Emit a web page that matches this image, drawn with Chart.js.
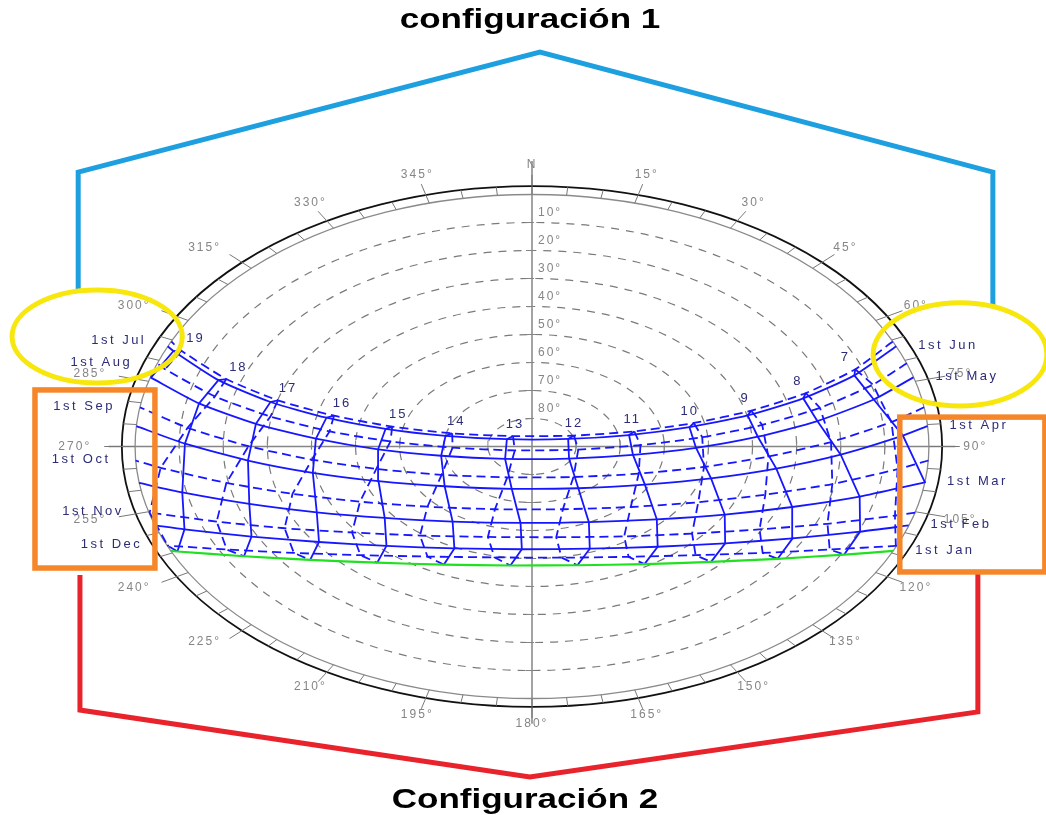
<!DOCTYPE html>
<html lang="es">
<head>
<meta charset="utf-8">
<title>configuración 1 / Configuración 2</title>
<script src="https://cdn.jsdelivr.net/npm/chart.js@4.4.1/dist/chart.umd.min.js"></script>
<style>
  html, body { margin: 0; padding: 0; background: #fff; }
  #wrap { width: 1046px; height: 815px; }
</style>
</head>
<body>
<div id="wrap"><canvas id="sunpath" width="1046" height="815"></canvas></div>
<script>
// Sun path positions.
// x = east offset, y = north offset, both in degrees of zenith distance (horizon = 90)
const hours = [7, 8, 9, 10, 11, 12, 13, 14, 15, 16, 17, 18, 19];
const monthLabels = ['1st Jan', '1st Feb', '1st Mar', '1st Apr', '1st May', '1st Jun',
                     '1st Jul', '1st Aug', '1st Sep', '1st Oct', '1st Nov', '1st Dec'];

const sunJan = [null, [70.8,-38.6], [55.7,-40.1], [40.6,-41.2], [25.5,-42.0], [10.3,-42.4], [-4.9,-42.5], [-20.0,-42.2], [-35.1,-41.5], [-50.3,-40.5], [-65.3,-39.2], [-80.4,-37.5], null];
const sunFeb = [null, [74.4,-30.4], [59.1,-32.8], [43.8,-34.6], [28.5,-35.8], [13.1,-36.5], [-2.3,-36.7], [-17.6,-36.4], [-33.0,-35.5], [-48.3,-34.1], [-63.6,-32.2], [-78.8,-29.6], null];
const sunMar = [[89.1,-12.8], [74.3,-17.9], [59.0,-21.6], [43.7,-24.3], [28.3,-26.0], [12.9,-27.0], [-2.6,-27.3], [-18.0,-26.8], [-33.4,-25.5], [-48.8,-23.5], [-64.1,-20.5], [-79.3,-16.4], null];
const sunApr = [[84.1,3.9], [70.0,-2.9], [55.4,-7.9], [40.6,-11.4], [25.6,-13.6], [10.5,-14.9], [-4.6,-15.1], [-19.8,-14.2], [-34.8,-12.4], [-49.7,-9.4], [-64.4,-5.0], [-78.7,1.0], null];
const sunMay = [[77.5,16.8], [64.7,9.1], [51.2,3.5], [37.2,-0.5], [22.9,-3.0], [8.4,-4.3], [-6.1,-4.4], [-20.6,-3.3], [-34.9,-1.0], [-49.0,2.8], [-62.6,8.1], [-75.5,15.4], [-86.4,24.6]];
const sunJun = [[73.1,25.4], [61.5,17.2], [48.9,11.1], [35.7,6.9], [22.0,4.1], [8.2,2.7], [-5.7,2.6], [-19.6,3.8], [-33.2,6.3], [-46.6,10.3], [-59.3,15.9], [-71.1,23.7], [-81.3,34.1]];
const sunJul = [[73.3,27.6], [62.1,19.1], [49.7,12.8], [36.7,8.4], [23.2,5.4], [9.5,3.9], [-4.3,3.7], [-18.1,4.7], [-31.7,7.1], [-44.9,11.0], [-57.6,16.5], [-69.3,24.1], [-79.5,34.2]];
const sunAug = [[77.3,22.1], [65.3,13.8], [52.2,7.7], [38.6,3.3], [24.6,0.5], [10.5,-1.1], [-3.9,-1.4], [-18.0,-0.4], [-32.1,1.8], [-45.9,5.4], [-59.3,10.7], [-71.9,17.9], [-83.2,27.6]];
const sunSep = [[81.5,8.7], [67.8,1.6], [53.6,-3.6], [39.0,-7.3], [24.2,-9.7], [9.4,-10.9], [-5.6,-11.0], [-20.5,-10.1], [-35.3,-8.0], [-49.9,-4.7], [-64.3,0.1], [-78.1,6.7], null];
const sunOct = [[82.9,-8.1], [68.1,-13.4], [52.9,-17.2], [37.7,-19.9], [22.4,-21.6], [7.0,-22.4], [-8.4,-22.4], [-23.7,-21.5], [-39.0,-19.7], [-54.3,-16.9], [-69.3,-13.0], [-84.2,-7.6], null];
const sunNov = [[82.3,-24.7], [67.0,-27.6], [51.6,-29.6], [36.3,-31.1], [20.9,-32.1], [5.5,-32.4], [-10.0,-32.3], [-25.4,-31.8], [-40.8,-30.7], [-56.1,-29.2], [-71.5,-26.8], [-86.7,-23.6], null];
const sunDec = [[82.5,-35.5], [67.5,-36.8], [52.3,-38.0], [37.1,-38.8], [21.9,-39.4], [6.7,-39.7], [-8.5,-39.6], [-23.7,-39.3], [-38.9,-38.8], [-54.0,-38.0], [-69.2,-36.8], [-82.6,-35.4], null];

// where each month's path meets the horizon (east = sunrise, west = sunset)
const sunrise = [[81.9,-37.3], [85.4,-28.2], [89.1,-13.0], [89.7,7.3], [86.5,24.7], [82.6,35.8],
                 [81.8,37.5], [85.0,29.7], [88.9,14.0], [89.9,-5.0], [86.9,-23.6], [82.7,-35.5]];
const sunset = [[-81.9,-37.3], [-85.4,-28.2], [-89.1,-13.0], [-89.7,7.3], [-86.5,24.7], [-82.6,35.8],
                [-81.8,37.5], [-85.0,29.7], [-88.9,14.0], [-89.9,-5.0], [-86.9,-23.6], [-82.7,-35.5]];

const altitudeRings = [10, 20, 30, 40, 50, 60, 70, 80];
const azimuthTicks = [0, 15, 30, 45, 60, 75, 90, 105, 120, 135, 150, 165, 180, 195, 210, 225, 240, 255, 270, 285, 300, 315, 330, 345];

const monthPaths = [sunJan, sunFeb, sunMar, sunApr, sunMay, sunJun, sunJul, sunAug, sunSep, sunOct, sunNov, sunDec];

const BLUE = '#1717ff';
const LABEL = '#2c2c78';
const GREY = '#858585';

const toXY = p => ({ x: p[0], y: p[1] });

// month curves: Jan-Jun solid, Jul-Dec dashed, Jan drawn green
const datasets = [];
monthPaths.forEach((path, m) => {
    datasets.push({
        data: [sunrise[m], ...path.filter(p => p), sunset[m]].map(toXY),
        showLine: true,
        pointRadius: 0,
        borderColor: m === 0 ? '#20e020' : BLUE,
        borderWidth: m === 0 ? 2.2 : 1.8,
        borderDash: m >= 6 ? [9, 5] : [],
        tension: 0.2
    });
});

// hour lines (analemmas): solid half Jan->Jul, dashed half Jul->Jan
hours.forEach((h, i) => {
    const firstHalf = [0, 1, 2, 3, 4, 5, 6].map(m => monthPaths[m][i]).filter(p => p);
    const secondHalf = [6, 7, 8, 9, 10, 11, 0].map(m => monthPaths[m][i]).filter(p => p);
    datasets.push({
        data: firstHalf.map(toXY), showLine: true, pointRadius: 0,
        borderColor: BLUE, borderWidth: 1.8, tension: 0
    });
    datasets.push({
        data: secondHalf.map(toXY), showLine: true, pointRadius: 0,
        borderColor: BLUE, borderWidth: 1.8, borderDash: [9, 5], tension: 0
    });
});

const polarGrid = {
    id: 'polarGrid',
    beforeDatasetsDraw(chart) {
        const { ctx } = chart;
        const { x, y } = chart.scales;
        const cx = x.getPixelForValue(0), cy = y.getPixelForValue(0);
        const polar = (az, r) => {
            const a = az * Math.PI / 180;
            return [x.getPixelForValue(r * Math.sin(a)), y.getPixelForValue(r * Math.cos(a))];
        };
        const ring = (r, color, width, dash) => {
            ctx.beginPath();
            ctx.setLineDash(dash);
            ctx.strokeStyle = color;
            ctx.lineWidth = width;
            ctx.ellipse(cx, cy, x.getPixelForValue(r) - cx, cy - y.getPixelForValue(r), 0, 0, Math.PI * 2);
            ctx.stroke();
        };

        ctx.save();
        altitudeRings.forEach(alt => ring(90 - alt, '#7a7a7a', 1.2, [8, 7]));

        // N-S and E-W axes
        ctx.setLineDash([]);
        ctx.strokeStyle = GREY;
        ctx.lineWidth = 1.5;
        ctx.beginPath();
        ctx.moveTo(cx, y.getPixelForValue(102));
        ctx.lineTo(cx, y.getPixelForValue(-99));
        ctx.moveTo(x.getPixelForValue(-96), cy);
        ctx.lineTo(x.getPixelForValue(96), cy);
        ctx.stroke();

        // little ticks where rings cross the axes
        ctx.lineWidth = 1;
        ctx.beginPath();
        altitudeRings.forEach(alt => {
            const r = 90 - alt;
            [r, -r].forEach(v => {
                const ty = y.getPixelForValue(v), tx = x.getPixelForValue(v);
                ctx.moveTo(cx - 6, ty); ctx.lineTo(cx + 2, ty);
                ctx.moveTo(tx, cy - 6); ctx.lineTo(tx, cy + 2);
            });
        });
        ctx.stroke();

        ring(90, '#8a8a8a', 1.3, []);
        ring(93, '#111', 1.8, []);

        // azimuth ticks round the rim
        ctx.setLineDash([]);
        ctx.strokeStyle = '#777';
        ctx.lineWidth = 1;
        ctx.beginPath();
        for (let az = 0; az < 360; az += 5) {
            const a = polar(az, 90);
            const b = polar(az, azimuthTicks.includes(az) ? 97 : 93);
            ctx.moveTo(a[0], a[1]);
            ctx.lineTo(b[0], b[1]);
        }
        ctx.stroke();
        ctx.restore();
    }
};

const overlay = {
    id: 'overlay',
    afterDraw(chart) {
        const { ctx } = chart;
        const { x, y } = chart.scales;
        const cx = x.getPixelForValue(0), cy = y.getPixelForValue(0);
        const P = p => [x.getPixelForValue(p[0]), y.getPixelForValue(p[1])];
        ctx.save();

        // altitude labels along the north axis
        ctx.font = '12px "Liberation Sans", Arial, sans-serif';
        ctx.letterSpacing = '2px';
        ctx.fillStyle = GREY;
        ctx.textAlign = 'left';
        ctx.textBaseline = 'middle';
        altitudeRings.forEach(alt => {
            ctx.fillText(alt + '°', cx + 6, y.getPixelForValue(90 - alt) - 10);
        });

        // azimuth labels
        ctx.textAlign = 'center';
        azimuthTicks.forEach(az => {
            const a = az * Math.PI / 180;
            let [lx, ly] = P([100.5 * Math.sin(a), 100.5 * Math.cos(a)]);
            if (Math.sin(a) < -0.6) lx -= 14;
            if (Math.cos(a) < -0.6) ly -= 4;
            ctx.fillText(az === 0 ? 'N' : az + '°', lx, ly);
        });

        // hour labels, just above the July point of each hour line
        ctx.font = '13px "Liberation Sans", Arial, sans-serif';
        ctx.letterSpacing = '2px';
        ctx.fillStyle = LABEL;
        hours.forEach((h, i) => {
            const [hx, hy] = P(sunJul[i]);
            ctx.fillText(String(h), hx + 2 * (h - 12), hy - 12);
        });

        // month labels at the horizon ends
        ctx.letterSpacing = '2.5px';
        monthLabels.forEach((lab, m) => {
            if (m < 6) {
                const [mx, my] = P(sunrise[m]);
                ctx.textAlign = 'left';
                ctx.fillText(lab, mx + 22, my - 1);
            } else {
                const [mx, my] = P(sunset[m]);
                ctx.textAlign = 'right';
                ctx.fillText(lab, mx - 25, my - 1);
            }
        });

        // callouts
        ctx.letterSpacing = '0px';
        ctx.setLineDash([]);
        ctx.lineJoin = 'miter';
        const poly = (pts, color) => {
            ctx.beginPath();
            pts.map(P).forEach((q, k) => k ? ctx.lineTo(q[0], q[1]) : ctx.moveTo(q[0], q[1]));
            ctx.strokeStyle = color;
            ctx.lineWidth = 5;
            ctx.stroke();
        };
        poly([[-102.9, 55], [-102.9, 98.0], [1.8, 140.9], [104.5, 98.0], [104.5, 49.5]], '#1e9fdf');
        poly([[-102.5, -45.9], [-102.5, -94.1], [-0.5, -118.0], [101.1, -94.8], [101.1, -45.2]], '#e8232b');

        const oval = (c, rx, ry) => {
            const [ex, ey] = P(c);
            ctx.beginPath();
            ctx.ellipse(ex, ey, x.getPixelForValue(c[0] + rx) - ex, ey - y.getPixelForValue(c[1] + ry), 0, 0, Math.PI * 2);
            ctx.strokeStyle = '#f7e70c';
            ctx.lineWidth = 5;
            ctx.stroke();
        };
        oval([-98.6, 39.3], 19.3, 16.6);
        oval([97.05, 32.9], 19.7, 18.4);

        const box = (a, b) => {
            const [x1, y1] = P(a), [x2, y2] = P(b);
            ctx.strokeStyle = '#f5862a';
            ctx.lineWidth = 5.5;
            ctx.strokeRect(x1, y1, x2 - x1, y2 - y1);
        };
        box([-112.7, 20.2], [-85.5, -43.4]);
        box([83.4, 10.5], [116.3, -44.8]);

        // titles
        ctx.fillStyle = '#000';
        ctx.font = 'bold 28px "Liberation Sans", Arial, sans-serif';
        ctx.textAlign = 'center';
        ctx.textBaseline = 'alphabetic';
        [['configuración 1', 530, 28], ['Configuración 2', 525, 808]].forEach(([t, tx, ty]) => {
            ctx.save();
            ctx.translate(tx, ty);
            ctx.scale(1.25, 1);
            ctx.fillText(t, 0, 0);
            ctx.restore();
        });
        ctx.restore();
    }
};

new Chart(document.getElementById('sunpath'), {
    type: 'scatter',
    data: { datasets },
    options: {
        responsive: false,
        animation: false,
        layout: { padding: 0 },
        plugins: { legend: { display: false }, tooltip: { enabled: false } },
        scales: {
            x: { type: 'linear', min: -120.63, max: 116.55, display: false },
            y: { type: 'linear', min: -131.6, max: 159.46, display: false }
        }
    },
    plugins: [polarGrid, overlay]
});
</script>
</body>
</html>
